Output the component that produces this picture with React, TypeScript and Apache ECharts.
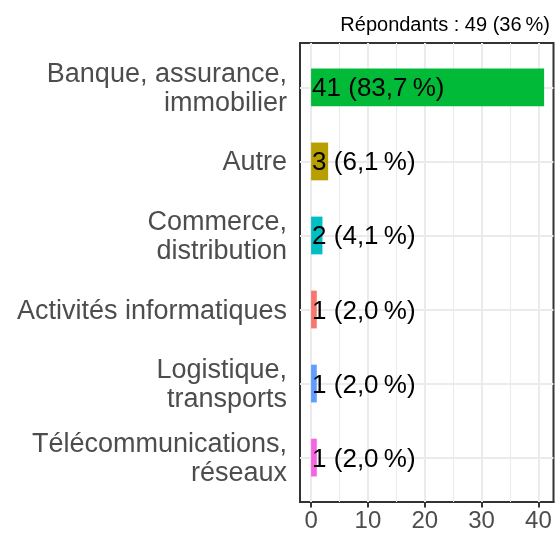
import React, { useEffect, useRef } from "react";
import * as echarts from "echarts";

const categories = [
  "Banque, assurance,\nimmobilier",
  "Autre",
  "Commerce,\ndistribution",
  "Activités informatiques",
  "Logistique,\ntransports",
  "Télécommunications,\nréseaux",
];
const counts = [41, 3, 2, 1, 1, 1];
const percents = [83.7, 6.1, 4.1, 2.0, 2.0, 2.0];
const barColors = ["#00BA38", "#B79F00", "#00BFC4", "#F8766D", "#619CFF", "#F564E3"];
const xTicks = [0, 10, 20, 30, 40];
const xMinorTicks = [5, 15, 25, 35];
const respondents = 49;
const responseRate = 36;

const FONT = "'Liberation Sans', Arial, Helvetica, sans-serif";
const NNBSP = "\u202F";

const fmtPct = (v: number) => v.toFixed(1).replace(".", ",");

export default function App() {
  const ref = useRef<HTMLDivElement>(null);
  useEffect(() => {
    if (!ref.current) return;
    const chart = echarts.init(ref.current, undefined, { renderer: "svg" });
    const xMin = -1.95;
    const xMax = 42.65;
    chart.setOption({
      animation: false,
      textStyle: { fontFamily: FONT },
      title: {
        text: `Répondants : ${respondents} (${responseRate}${NNBSP}%)`,
        right: 2,
        top: 9,
        textStyle: { fontSize: 20, fontWeight: "normal", color: "#000", fontFamily: FONT },
      },
      grid: [
        { left: 300, right: 3.5, top: 43, height: 459, show: true, borderColor: "#333", borderWidth: 2, backgroundColor: "#fff", containLabel: false },
        { left: 300, right: 3.5, top: 50.4, height: 444.2, containLabel: false },
      ],
      xAxis: [
        {
          gridIndex: 0,
          type: "value",
          min: xMin,
          max: xMax,
          axisLine: { show: true, lineStyle: { color: "#333", width: 2 } },
          splitLine: { show: false },
          axisTick: { show: true, customValues: xTicks, length: 5.5, lineStyle: { color: "#333", width: 2 } },
          axisLabel: {
            customValues: xTicks,
            formatter: (v: number) => (xTicks.includes(v) ? String(v) : ""),
            color: "#4d4d4d",
            fontSize: 24,
            margin: 5,
            fontFamily: FONT,
          },
        },
        { gridIndex: 1, type: "value", min: xMin, max: xMax, show: false },
      ],
      yAxis: [
        { gridIndex: 0, type: "value", min: 0, max: 1, show: false },
        {
          gridIndex: 1,
          type: "category",
          data: categories,
          inverse: true,
          axisLine: { show: true, lineStyle: { color: "#333", width: 2 } },
          splitLine: { show: false },
          axisTick: { show: true, alignWithLabel: true, length: 5.5, lineStyle: { color: "#333", width: 2 } },
          axisLabel: { color: "#4d4d4d", fontSize: 27, lineHeight: 29.5, margin: 13, align: "right", fontFamily: FONT },
        },
      ],
      series: [
        {
          type: "line",
          xAxisIndex: 0,
          yAxisIndex: 0,
          data: [],
          z: 1,
          silent: true,
          markLine: {
            z: 1,
            silent: true,
            symbol: ["none", "none"],
            label: { show: false },
            emphasis: { disabled: true },
            data: [
              ...xMinorTicks.map((v) => ({ xAxis: v, lineStyle: { color: "#ebebeb", width: 1.1, type: "solid" } })),
              ...xTicks.map((v) => ({ xAxis: v, lineStyle: { color: "#ebebeb", width: 2, type: "solid" } })),
            ],
          },
        },
        {
          type: "line",
          xAxisIndex: 1,
          yAxisIndex: 1,
          data: [],
          z: 1,
          silent: true,
          markLine: {
            z: 1,
            silent: true,
            symbol: ["none", "none"],
            label: { show: false },
            emphasis: { disabled: true },
            data: categories.map((c) => ({ yAxis: c, lineStyle: { color: "#ebebeb", width: 2, type: "solid" } })),
          },
        },
        {
          type: "bar",
          xAxisIndex: 1,
          yAxisIndex: 1,
          z: 3,
          barWidth: "51%",
          data: counts.map((v, i) => ({ value: v, itemStyle: { color: barColors[i] } })),
          label: {
            show: true,
            position: "insideLeft",
            distance: 1,
            color: "#000",
            fontSize: 26,
            fontFamily: FONT,
            textBorderWidth: 0,
            formatter: (p: any) => `${counts[p.dataIndex]} (${fmtPct(percents[p.dataIndex])}${NNBSP}%)`,
          },
        },
      ],
    });
    return () => chart.dispose();
  }, []);
  return <div ref={ref} style={{ position: "fixed", left: 0, top: 0, width: 557, height: 533 }} />;
}
